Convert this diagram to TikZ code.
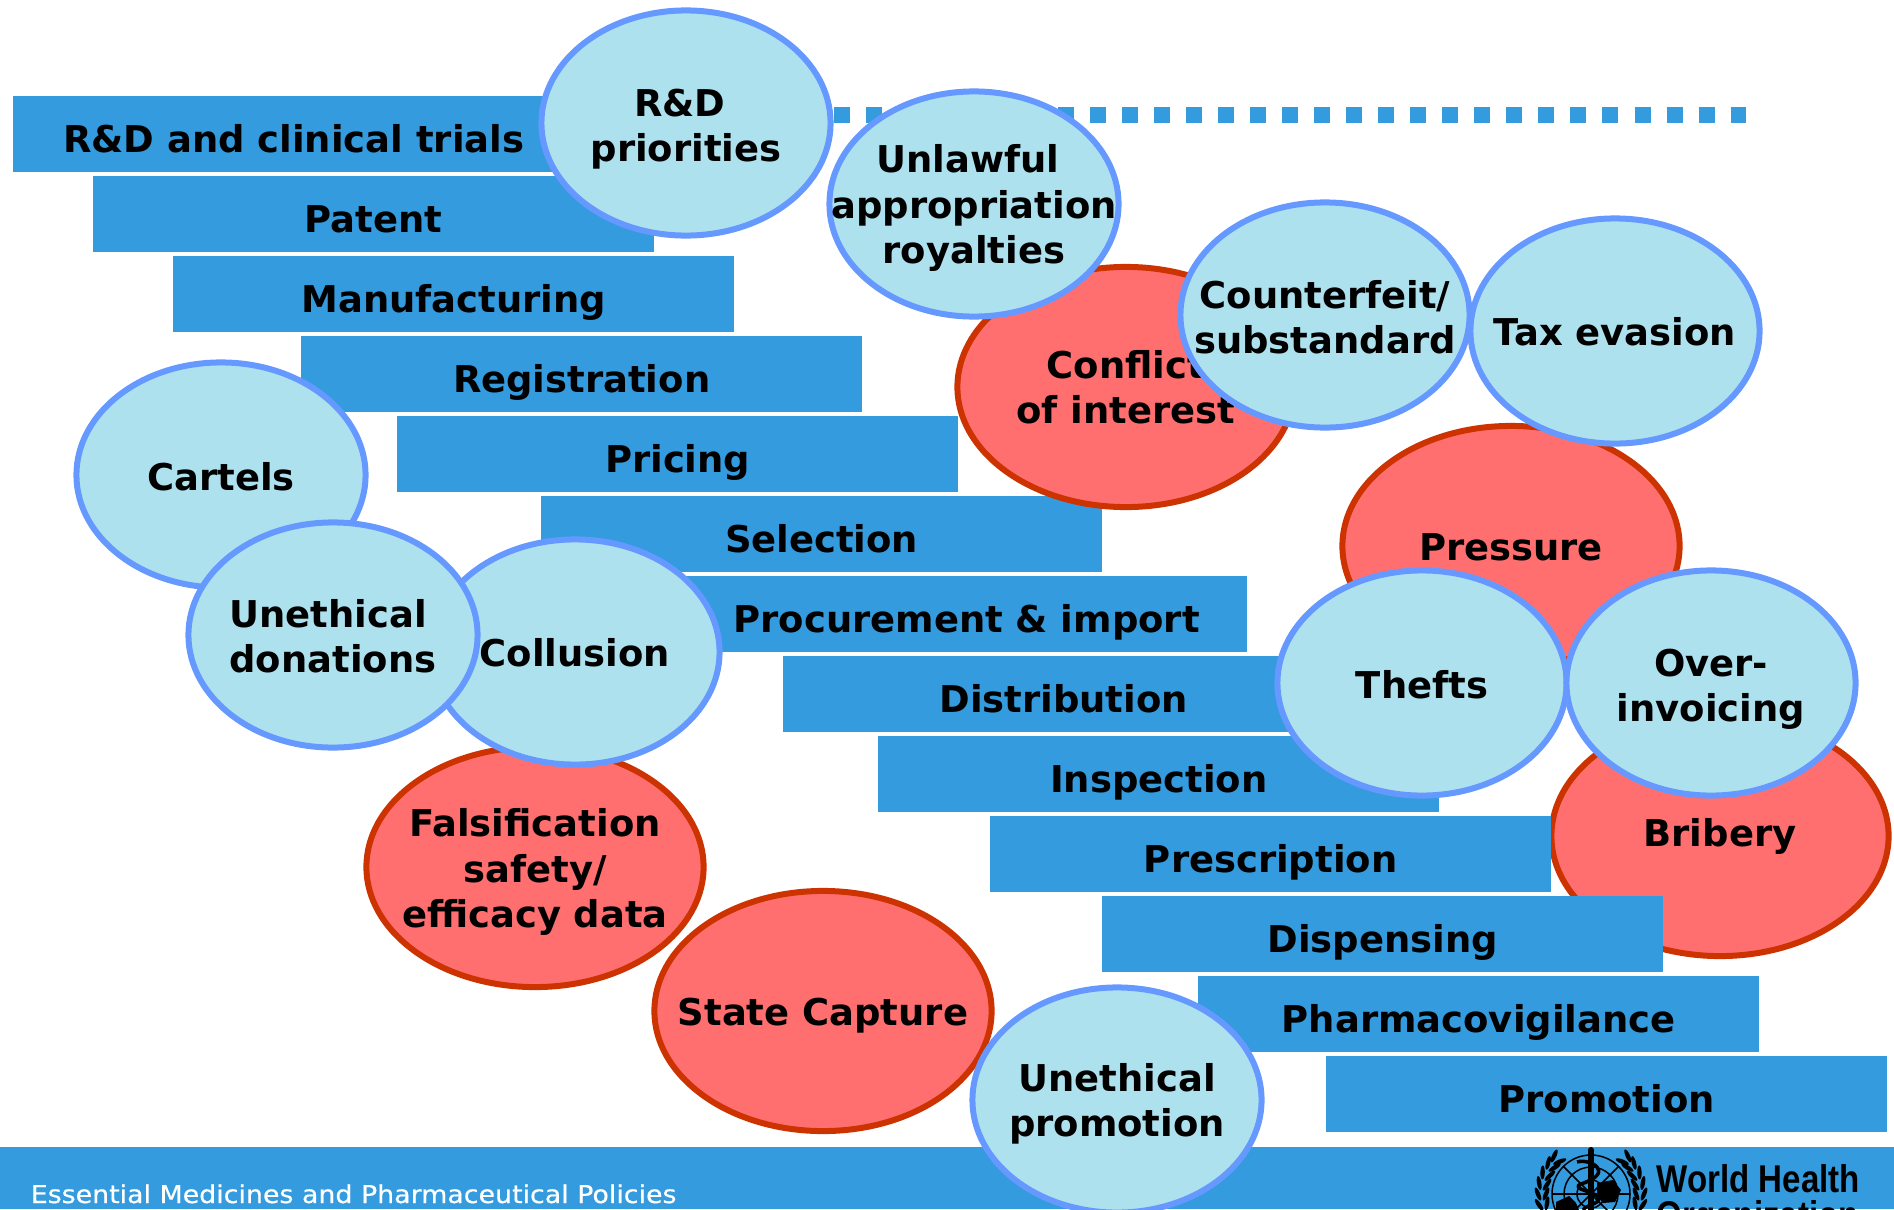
\documentclass[tikz,border=0pt]{standalone}
\usepackage{fontspec}
\setmainfont{DejaVu Sans}
\newfontfamily\footfont[FakeBold=.5]{DejaVu Sans}
\newfontfamily\whofont{Liberation Sans}
\usetikzlibrary{shapes.geometric}
\definecolor{barblue}{HTML}{349BDF}
\definecolor{ovalblue}{HTML}{AEE1EE}
\definecolor{ovalline}{HTML}{6699FF}
\definecolor{ovalred}{HTML}{FF6F6F}
\definecolor{redline}{HTML}{CC3300}
\tikzset{
  stagebar/.style={rectangle,fill=barblue,minimum width=5.61cm,minimum height=.76cm,inner sep=0pt,outer sep=0pt},
  blueoval/.style={ellipse,draw=ovalline,fill=ovalblue,line width=.06cm,minimum width=2.89cm,minimum height=2.25cm,inner sep=0pt},
  redoval/.style={ellipse,draw=redline,fill=ovalred,line width=.06cm,minimum width=3.37cm,minimum height=2.4cm,inner sep=0pt},
  bartext/.style={font=\fontsize{10.5}{12.9}\selectfont\bfseries,inner sep=0pt,anchor=base},
  ovaltext/.style={font=\fontsize{10.5}{12.9}\selectfont\bfseries,align=center,inner sep=0pt},
}
\begin{document}
\begin{tikzpicture}[x=.01cm,y=-.01cm,line join=round]
    \useasboundingbox (0,0) rectangle (1894,1209);
    \clip (0,0) rectangle (1894,1209);
    % footer
    \fill[barblue] (0,1147) rectangle (1894,1209);
    \node[anchor=base west,text=white,inner sep=0pt,font=\footfont\fontsize{7}{8}\selectfont,xscale=1.09] (foottext) at (30,1203) {Essential Medicines and Pharmaceutical Policies};
    % logo
    \begin{scope}[shift={(1591,1194)}]
        \draw[line width=.015cm] (0,0) circle (39);
        \draw[line width=.015cm] (0,0) circle (27);
        \draw[line width=.015cm] (0,0) circle (14);
        \draw[line width=.015cm] (-39,0)--(39,0);
        \draw[line width=.015cm] (-28,-28)--(28,28);
        \draw[line width=.015cm] (28,-28)--(-28,28);
        \fill (6,-11) -- (22,-14) -- (30,-4) -- (24,8) -- (12,9) -- (6,2) -- cycle;
        \fill (-35,8) -- (-22,2) -- (-15,9) -- (-12,16) -- (-35,16) -- cycle;
        \draw[line width=.06cm,line cap=round] (0,-44)--(0,16);
        \draw[line width=.035cm] (-14,-32) .. controls (-2,-36) and (26,-22) .. (-10,-10) .. controls (-24,-4) and (16,-2) .. (6,8) .. controls (0,12) and (-6,12) .. (-8,16);
        \foreach \a in {-12,0,12,24,36,46} {
            \fill[rotate=\a,shift={(45,0)},rotate=22] (0,0) ellipse (2.2 and 7);
            \fill[rotate=\a,shift={(53,0)},rotate=-22] (0,0) ellipse (2.2 and 7);
            \fill[rotate=180-\a,shift={(45,0)},rotate=-22] (0,0) ellipse (2.2 and 7);
            \fill[rotate=180-\a,shift={(53,0)},rotate=22] (0,0) ellipse (2.2 and 7);
        }
    \end{scope}
    \node[anchor=base west,inner sep=0pt,align=left,font=\whofont\bfseries\fontsize{11}{10.2}\selectfont,xscale=.855] (whotext) at (1656,1228) {World Health\\Organization};
    % bribery sits under the bars
    \node[redoval] (bribery) at (1720,836) {};
    \node[ovaltext] (briberytxt) at (bribery) {Bribery};
    % dotted line
    \draw[barblue,line width=.16cm,dash pattern=on .16cm off .16cm] (834,115)--(1746,115);
    % stages
    \foreach \i/\x/\y/\txt in {1/13/96/R\&D and clinical trials,2/93/176/Patent,3/173/256/Manufacturing,4/301/336/Registration,
        5/397/416/Pricing,6/541/496/Selection,7/686/576/Procurement \& import,8/783/656/Distribution,9/878/736/Inspection,
        10/990/816/Prescription,11/1102/896/Dispensing,12/1198/976/Pharmacovigilance,13/1326/1056/Promotion}
    {
        \node[stagebar,anchor=north west] (bar\i) at (\x,\y) {};
        \node[bartext] (bar\i txt) at ([yshift=-.18cm]bar\i.center) {\txt};
    }
    % risks
    \foreach \name/\x/\y/\dy/\txt in {conflict/1126/387/0/Conflict\\of interest,pressure/1511/546/1/Pressure,
        falsification/535/867/5/{Falsification\\safety/\\efficacy data},capture/823/1011/5/State Capture}
    {
        \node[redoval] (\name) at (\x,\y) {};
        \node[ovaltext,yshift=-\dy*.01cm] (\name txt) at (\name) {\txt};
    }
    \foreach \name/\x/\y/\dy/\txt in {priorities/686/123/6/R\&D\hspace*{.12cm}\\priorities,unlawful/974/204/4/Unlawful\hspace*{.12cm}\\appropriation\hspace*{.12cm}\\royalties,
        counterfeit/1325/315/2/{Counterfeit/\\substandard},tax/1615/331/1/Tax evasion,cartels/221/475/2/Cartels,
        collusion/575/652/1/Collusion,donations/333/635/1/Unethical\hspace*{.1cm}\\donations,promotion/1117/1100/4/Unethical\\promotion,
        thefts/1422/683/2/Thefts,invoicing/1711/683/6/Over-\\invoicing}
    {
        \node[blueoval] (\name) at (\x,\y) {};
        \node[ovaltext,yshift=-\dy*.01cm] (\name txt) at (\name) {\txt};
    }
\end{tikzpicture}
\end{document}
